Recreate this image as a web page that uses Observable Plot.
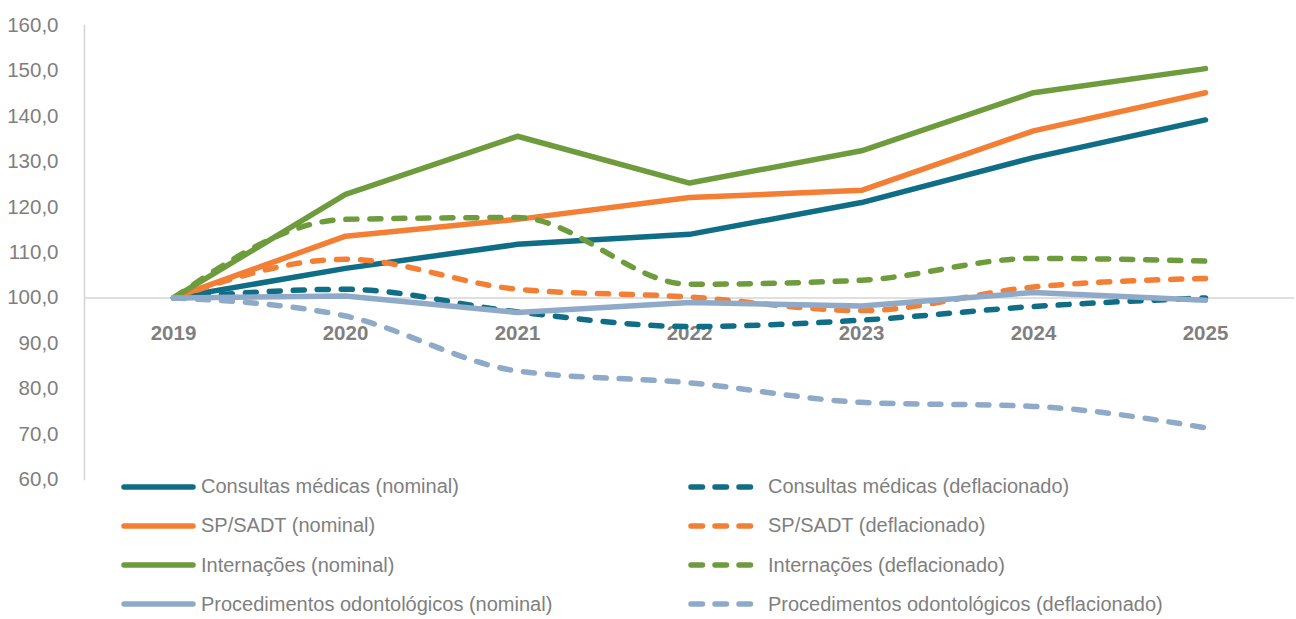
<!DOCTYPE html>
<html>
<head>
<meta charset="utf-8">
<script src="https://cdn.jsdelivr.net/npm/d3@7"></script>
<script src="https://cdn.jsdelivr.net/npm/@observablehq/plot@0.6"></script>
<style>
  html, body { margin: 0; padding: 0; background: #fff; }
  body { width: 1296px; height: 619px; overflow: hidden; font-family: "Liberation Sans", Arial, sans-serif; }
  #chart svg { display: block; overflow: visible; }
  #legend { position: relative; height: 160px; margin-top: -15px; }
  .lg-item { position: absolute; display: flex; align-items: center; height: 39px; font-size: 20px; color: #7f7f7f; white-space: nowrap; }
  .lg-item svg { display: block; margin-right: 5px; }
</style>
</head>
<body>
<div id="chart"></div>
<div id="legend"></div>
<script>
// ---- data ----
const years = [2019, 2020, 2021, 2022, 2023, 2024, 2025];
const consultasNominal        = [100, 106.5, 111.8, 114.0, 121.0, 130.9, 139.2];
const consultasDeflacionado   = [100, 101.9,  96.9,  93.7,  95.1,  98.1, 100.0];
const spsadtNominal           = [100, 113.6, 117.3, 122.1, 123.7, 136.8, 145.2];
const spsadtDeflacionado      = [100, 108.5, 101.9, 100.2,  97.2, 102.4, 104.3];
const internacoesNominal      = [100, 122.8, 135.6, 125.3, 132.4, 145.2, 150.5];
const internacoesDeflacionado = [100, 117.3, 117.7, 103.0, 103.9, 108.7, 108.1];
const odontoNominal           = [100, 100.4,  96.8,  99.0,  98.2, 101.2,  99.5];
const odontoDeflacionado      = [100,  96.0,  83.9,  81.3,  77.0,  76.1,  71.4];

const seriesNames = [
  "Consultas médicas (nominal)", "Consultas médicas (deflacionado)",
  "SP/SADT (nominal)", "SP/SADT (deflacionado)",
  "Internações (nominal)", "Internações (deflacionado)",
  "Procedimentos odontológicos (nominal)", "Procedimentos odontológicos (deflacionado)"
];
const seriesValues = [
  consultasNominal, consultasDeflacionado,
  spsadtNominal, spsadtDeflacionado,
  internacoesNominal, internacoesDeflacionado,
  odontoNominal, odontoDeflacionado
];
const seriesColors = ["#0f6e86", "#0f6e86", "#f37f35", "#f37f35", "#6e9c3c", "#6e9c3c", "#8eaac8", "#8eaac8"];
const seriesDashed = [false, true, false, true, false, true, false, true];
const yTicks = [60, 70, 80, 90, 100, 110, 120, 130, 140, 150, 160];
const axisCross = 100;

// ---- chart ----
const fmt = v => v.toFixed(1).replace(".", ",");
const DASH = "11,13";
const SW = 5.5;

const lineMarks = seriesNames.map((name, i) => {
  const rows = years.map((yr, j) => ({year: yr, value: seriesValues[i][j], series: name}));
  return Plot.line(rows, {
    x: "year", y: "value",
    stroke: seriesColors[i],
    strokeWidth: SW,
    strokeLinecap: "round",
    strokeLinejoin: "round",
    strokeDasharray: seriesDashed[i] ? DASH : null,
    curve: seriesDashed[i] ? "monotone-x" : "linear"
  });
});

const chart = Plot.plot({
  width: 1296,
  height: 482,
  marginTop: 25,
  marginBottom: 3,
  marginLeft: 84,
  marginRight: 2,
  style: {fontFamily: '"Liberation Sans", Arial, sans-serif', background: "#fff"},
  x: {type: "point", domain: years, padding: 0.5, axis: null},
  y: {domain: [60, 160], axis: null},
  marks: [
    Plot.ruleY([axisCross], {stroke: "#d4d4d4", strokeWidth: 1.5}),
    Plot.frame({anchor: "left", stroke: "#d4d4d4", strokeWidth: 1.5}),
    Plot.axisY(yTicks, {tickSize: 0, tickPadding: 26, tickFormat: fmt, fontSize: 20.5, color: "#7f7f7f", label: null}),
    Plot.text(years, {x: d => d, y: () => axisCross, dy: 36, text: d => String(d), fontWeight: "bold", fontSize: 20.5, fill: "#7f7f7f"}),
    ...lineMarks
  ]
});
document.getElementById("chart").appendChild(chart);

// ---- legend ----
const legend = document.getElementById("legend");
seriesNames.forEach((name, i) => {
  const row = Math.floor(i / 2), col = i % 2;
  const item = document.createElement("div");
  item.className = "lg-item";
  item.style.left = (col === 0 ? 121 : 688) + "px";
  item.style.top = (row * 39.3) + "px";
  const sw = 75;
  const svgNS = "http://www.w3.org/2000/svg";
  const s = document.createElementNS(svgNS, "svg");
  s.setAttribute("width", sw);
  s.setAttribute("height", 10);
  const l = document.createElementNS(svgNS, "line");
  l.setAttribute("x1", 3); l.setAttribute("x2", sw - 3);
  l.setAttribute("y1", 5); l.setAttribute("y2", 5);
  l.setAttribute("stroke", seriesColors[i]);
  l.setAttribute("stroke-width", SW);
  l.setAttribute("stroke-linecap", "round");
  if (seriesDashed[i]) l.setAttribute("stroke-dasharray", "11.5,12.5");
  s.appendChild(l);
  item.appendChild(s);
  const t = document.createElement("span");
  t.textContent = name;
  item.appendChild(t);
  legend.appendChild(item);
});
</script>
</body>
</html>
